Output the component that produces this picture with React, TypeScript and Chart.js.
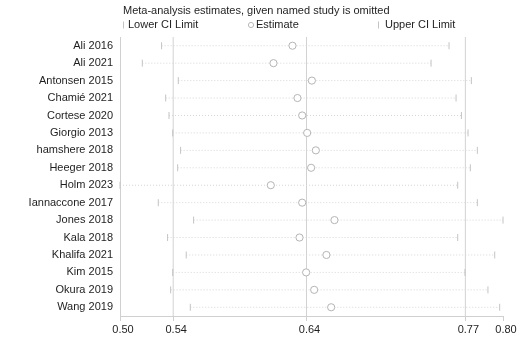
import React, { useEffect, useRef } from "react";
import { Chart, registerables } from "chart.js";

Chart.register(...registerables);

const titleText = "Meta-analysis estimates, given named study is omitted";
const legendLabels = ["Lower CI Limit", "Estimate", "Upper CI Limit"];

const studies = [
  "Ali 2016",
  "Ali 2021",
  "Antonsen 2015",
  "Chamié 2021",
  "Cortese 2020",
  "Giorgio 2013",
  "hamshere 2018",
  "Heeger 2018",
  "Holm 2023",
  "Iannaccone 2017",
  "Jones 2018",
  "Kala 2018",
  "Khalifa 2021",
  "Kim 2015",
  "Okura 2019",
  "Wang 2019",
];

const lowerCI = [
  0.5326, 0.5175, 0.5457, 0.5358, 0.5384, 0.5413, 0.5475, 0.5452,
  0.5, 0.53, 0.5577, 0.5373, 0.5519, 0.5413, 0.5397, 0.5551,
];

const estimates = [
  0.6352, 0.6203, 0.6504, 0.6391, 0.6428, 0.6467, 0.6535, 0.6498,
  0.6182, 0.6428, 0.6681, 0.6407, 0.6618, 0.6459, 0.6522, 0.6655,
];

const upperCI = [
  0.7579, 0.7438, 0.7754, 0.7634, 0.7676, 0.7728, 0.7801, 0.7746,
  0.7647, 0.7801, 0.8002, 0.7647, 0.7937, 0.7704, 0.7884, 0.7976,
];

// overall lower CI, estimate, upper CI
const overallValues = [0.5417, 0.6462, 0.7707];

const tickValues = [0.5, 0.5417, 0.6462, 0.7707, 0.8002];
const tickLabels = ["0.50", "0.54", "0.64", "0.77", "0.80"];

const FONT = '"Liberation Sans", Arial, Helvetica, sans-serif';

const headerPlugin = {
  id: "header",
  afterDraw(chart: any) {
    const ctx = chart.ctx;
    const left = chart.chartArea.left;
    ctx.save();
    ctx.font = `11px ${FONT}`;
    ctx.fillStyle = "#1e1e1e";
    ctx.textBaseline = "middle";
    ctx.textAlign = "left";
    ctx.fillText(titleText, left + 3, 11);

    const ly = 25;
    // Lower CI tick
    ctx.strokeStyle = "#c4c4c4";
    ctx.lineWidth = 1;
    ctx.beginPath();
    ctx.moveTo(left + 3.5, ly - 3.5);
    ctx.lineTo(left + 3.5, ly + 3.5);
    ctx.stroke();
    ctx.fillText(legendLabels[0], left + 8, ly);
    // Estimate circle
    ctx.strokeStyle = "#b8b8b8";
    ctx.beginPath();
    ctx.arc(left + 131, ly, 2.6, 0, Math.PI * 2);
    ctx.stroke();
    ctx.fillText(legendLabels[1], left + 136, ly);
    // Upper CI tick
    ctx.strokeStyle = "#c4c4c4";
    ctx.beginPath();
    ctx.moveTo(left + 258.5, ly - 3.5);
    ctx.lineTo(left + 258.5, ly + 3.5);
    ctx.stroke();
    ctx.fillText(legendLabels[2], left + 265, ly);
    ctx.restore();
  },
};

export default function App() {
  const canvasRef = useRef<HTMLCanvasElement | null>(null);

  useEffect(() => {
    if (!canvasRef.current) return;

    const ciDatasets = studies.map((s, i) => ({
      type: "scatter" as const,
      data: [
        { x: lowerCI[i], y: s },
        { x: upperCI[i], y: s },
      ],
      showLine: true,
      borderColor: "#d6d6d6",
      borderWidth: 1,
      borderDash: [1, 2],
      pointStyle: "line",
      rotation: 90,
      pointRadius: 3.5,
      pointBorderColor: "#c4c4c4",
      pointBorderWidth: 1,
      pointBackgroundColor: "#c4c4c4",
      yAxisID: "y",
      order: 2,
      clip: false,
    }));

    const estDataset = {
      type: "scatter" as const,
      data: studies.map((s, i) => ({ x: estimates[i], y: s })),
      showLine: false,
      pointStyle: "circle",
      pointRadius: 3.6,
      pointBorderColor: "#b4b4b4",
      pointBackgroundColor: "rgba(255,255,255,1)",
      pointBorderWidth: 1,
      yAxisID: "y",
      order: 1,
    };

    const overallDatasets = overallValues.map((v) => ({
      type: "scatter" as const,
      data: [
        { x: v, y: 0 },
        { x: v, y: 1 },
      ],
      showLine: true,
      borderColor: "#d2d2d2",
      borderWidth: 1,
      pointRadius: 0,
      yAxisID: "y2",
      order: 3,
    }));

    const chart = new Chart(canvasRef.current, {
      type: "scatter",
      data: {
        datasets: [...overallDatasets, ...ciDatasets, estDataset] as any,
      },
      options: {
        responsive: false,
        animation: false,
        devicePixelRatio: 1,
        layout: { padding: { left: 0, right: 17, top: 37, bottom: 0 } },
        plugins: {
          legend: { display: false },
          tooltip: { enabled: false },
          title: { display: false },
        },
        scales: {
          x: {
            type: "linear",
            min: tickValues[0],
            max: tickValues[tickValues.length - 1],
            afterBuildTicks: (scale: any) => {
              scale.ticks = tickValues.map((v) => ({ value: v }));
            },
            afterFit: (scale: any) => {
              scale.height = 29;
            },
            ticks: {
              autoSkip: false,
              maxRotation: 0,
              padding: 2,
              labelOffset: 3,
              color: "#1e1e1e",
              font: { family: FONT, size: 11 },
              callback: (_v: any, i: number) => tickLabels[i],
            },
            grid: {
              drawOnChartArea: false,
              drawTicks: true,
              tickLength: 5,
              color: "#d0d0d0",
            },
            border: { display: true, color: "#d0d0d0" },
          },
          y: {
            type: "category",
            labels: studies,
            offset: true,
            afterFit: (scale: any) => {
              scale.width = 120;
            },
            ticks: {
              autoSkip: false,
              padding: 7,
              color: "#1e1e1e",
              font: { family: FONT, size: 11 },
            },
            grid: { display: false, drawTicks: false },
            border: { display: true, color: "#d0d0d0" },
          },
          y2: {
            type: "linear",
            min: 0,
            max: 1,
            display: false,
          },
        },
      } as any,
      plugins: [headerPlugin],
    });

    return () => chart.destroy();
  }, []);

  return (
    <div
      style={{
        position: "fixed",
        left: 0,
        top: 0,
        width: 520,
        height: 345,
        background: "#ffffff",
      }}
    >
      <canvas
        ref={canvasRef}
        width={520}
        height={345}
        style={{ display: "block", width: 520, height: 345 }}
      />
    </div>
  );
}
